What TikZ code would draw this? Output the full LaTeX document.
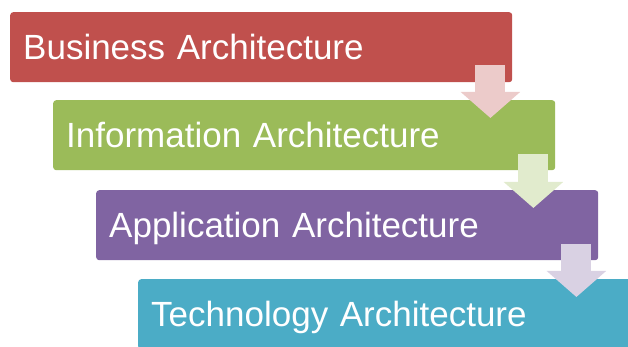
\documentclass[tikz,border=0pt]{standalone}
\usepackage{fontspec}
\setmainfont{Liberation Sans}
\usepackage{tikz}
\usetikzlibrary{arrows.meta, calc, positioning}

\definecolor{bizred}{HTML}{C0504D}
\definecolor{infogreen}{HTML}{9BBB59}
\definecolor{apppurple}{HTML}{8064A2}
\definecolor{techteal}{HTML}{4BACC6}

\tikzset{
	x=1pt, y=1pt,
	layer/.style ={rectangle, rounded corners=3pt, anchor=north west, minimum width=502pt, minimum height=70pt,
		inner xsep=13pt, inner ysep=0pt, text width=476pt, align=left, text height=25pt, text depth=0pt,
		text=white, font=\fontsize{35}{40}\selectfont},
	flow/.style = {draw=#1, line width=30pt, -{Triangle[width=58pt, length=26pt, fill=#1]}}
}

\begin{document}
\begin{tikzpicture}
	\useasboundingbox (0,0) rectangle (628,347);
	\clip (0,0) rectangle (628,347);
	
	% Layers
	\node[layer, fill=bizred] (business) at (10, 335) {Business Architecture};
	\node[layer, fill=infogreen] (information) at (53, 247) {Information Architecture};
	\node[layer, fill=apppurple] (application) at (96, 157) {Application Architecture};
	\node[layer, fill=techteal] (technology) at (138, 68) {Technology Architecture};
	
	% Down arrows
	\coordinate (s1) at ($(business.south east)+(-22,17)$);
	\coordinate (s2) at ($(information.south east)+(-22,16)$);
	\coordinate (s3) at ($(application.south east)+(-22,16)$);
	\draw[flow=bizred!30!white] (s1) -- ($(s1 |- information.north)+(0,-18)$);
	\draw[flow=infogreen!30!white] (s2) -- ($(s2 |- application.north)+(0,-18)$);
	\draw[flow=apppurple!30!white] (s3) -- ($(s3 |- technology.north)+(0,-18)$);
\end{tikzpicture}
\end{document}
